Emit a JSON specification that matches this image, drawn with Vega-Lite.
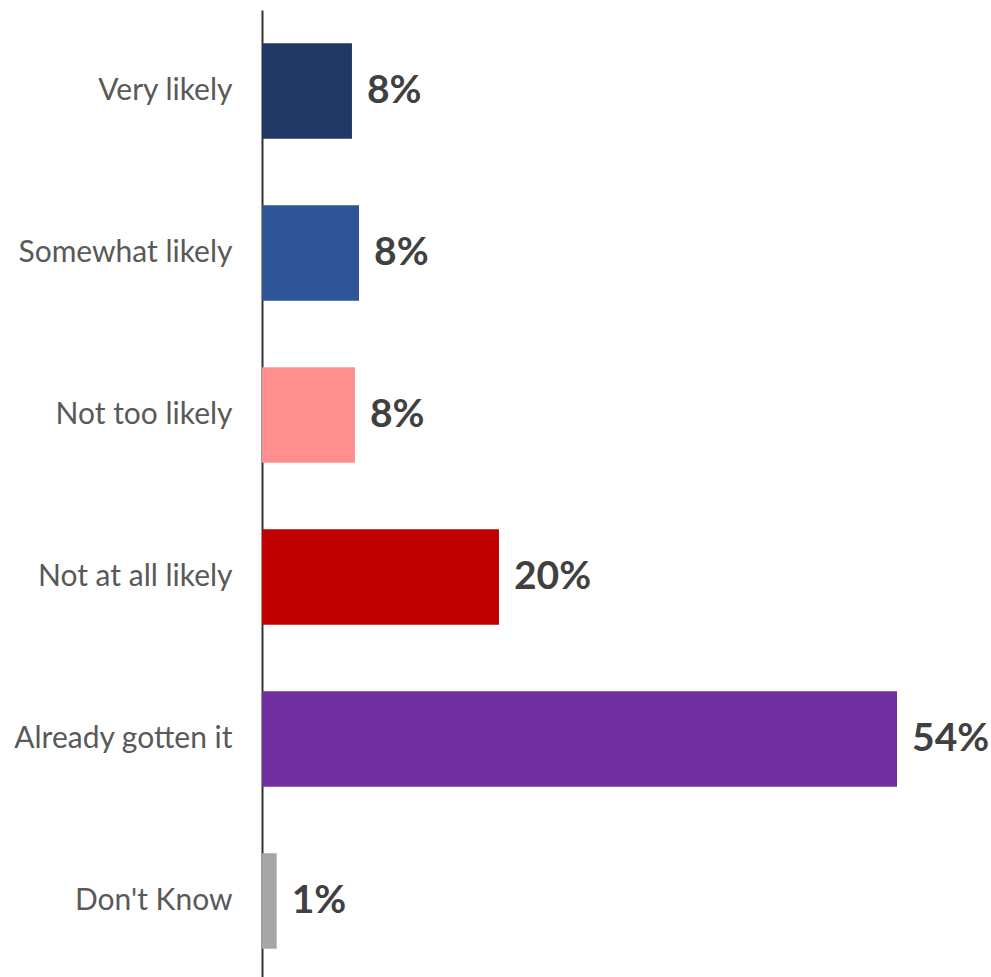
{
  "$schema": "https://vega.github.io/schema/vega-lite/v6.json",
  "autosize": {"type": "none"},
  "padding": {"left": 262, "top": 10, "right": 24, "bottom": 0},
  "width": 705.6,
  "height": 972,
  "background": "white",
  "config": {"view": {"stroke": null}},
  "data": {
    "values": [
      {"response": "Very likely", "share": 0.0765, "color": "#203864"},
      {"response": "Somewhat likely", "share": 0.0825, "color": "#2F5597"},
      {"response": "Not too likely", "share": 0.079, "color": "#FF8F8F"},
      {"response": "Not at all likely", "share": 0.2015, "color": "#C00000"},
      {"response": "Already gotten it", "share": 0.54, "color": "#7030A0"},
      {"response": "Don't Know", "share": 0.0125, "color": "#A6A6A6"}
    ]
  },
  "encoding": {
    "y": {
      "field": "response",
      "type": "nominal",
      "sort": null,
      "scale": {"paddingInner": 0.41, "paddingOuter": 0.205},
      "axis": {
        "title": null,
        "ticks": false,
        "domainColor": "#333333",
        "domainWidth": 2,
        "labelFont": "Lato",
        "labelFontSize": 30,
        "labelColor": "#595959",
        "labelPadding": 30,
        "labelLimit": 0
      }
    },
    "x": {
      "field": "share",
      "type": "quantitative",
      "scale": {"domain": [0, 0.6]},
      "axis": null
    }
  },
  "layer": [
    {
      "mark": {"type": "bar"},
      "encoding": {
        "color": {"field": "color", "type": "nominal", "scale": null, "legend": null}
      }
    },
    {
      "mark": {
        "type": "text",
        "align": "left",
        "baseline": "middle",
        "dx": 15,
        "font": "Lato",
        "fontWeight": "bold",
        "fontSize": 39,
        "color": "#404040"
      },
      "encoding": {
        "text": {"field": "share", "type": "quantitative", "format": ".0%"}
      }
    }
  ]
}
